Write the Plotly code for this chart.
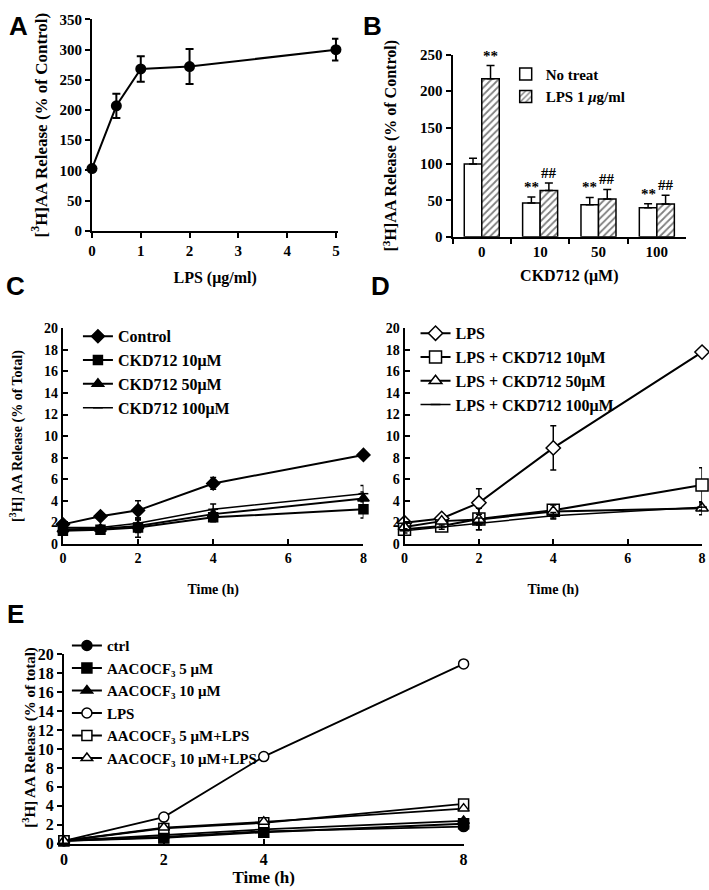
import plotly.graph_objects as go

W, H = 712, 900
SERIF = "Liberation Serif"

# ---- panel A : LPS dose response
lps_dose = [0, 0.5, 1, 2, 5]
lps_release = [103, 207, 268, 272, 300]
lps_err = [3, 20, 21, 29, 18]

# ---- panel B : CKD712 bars
ckd_cats = ["0", "10", "50", "100"]
no_treat = [100, 46.5, 44, 40]
no_treat_err = [8, 8, 10, 5.5]
lps_treat = [217, 63.5, 52, 45]
lps_treat_err = [18, 10.5, 13, 12]
no_treat_marks = ["", "**", "**", "**"]
lps_marks = ["**", "##", "##", "##"]

# ---- panel C / D : time course
hours = [0, 1, 2, 4, 8]
c_control = [1.8, 2.55, 3.1, 5.6, 8.25]
c_control_err = [0.2, 0.15, 0.9, 0.55, 0.2]
c_ckd10 = [1.2, 1.3, 1.5, 2.45, 3.2]
c_ckd10_err = [0.3, 0.2, 0.9, 0.4, 0.8]
c_ckd50 = [1.35, 1.4, 1.65, 2.75, 4.2]
c_ckd50_err = [0.3, 0.2, 0.6, 0.4, 0.6]
c_ckd100 = [1.5, 1.5, 1.9, 3.2, 4.65]
c_ckd100_err = [0.2, 0.2, 0.5, 0.5, 0.75]

d_lps = [1.95, 2.35, 3.8, 8.9, 17.8]
d_lps_err = [0.2, 0.2, 1.3, 2.05, 0.2]
d_lps10 = [1.35, 1.65, 2.3, 3.1, 5.45]
d_lps10_err = [0.2, 0.2, 1.0, 0.4, 1.6]
d_lps50 = [1.55, 2.1, 2.25, 3.0, 3.3]
d_lps50_err = [0.2, 0.2, 0.5, 0.6, 0.6]
d_lps100 = [1.2, 1.55, 1.85, 2.6, 3.4]
d_lps100_err = [0.2, 0.2, 0.55, 0.3, 0.3]

# ---- panel E : AACOCF3
e_hours = [0, 2, 4, 8]
e_ctrl = [0.3, 0.7, 1.3, 1.8]
e_aa5 = [0.3, 0.6, 1.2, 2.1]
e_aa10 = [0.3, 0.9, 1.5, 2.4]
e_lps = [0.3, 2.8, 9.2, 19.0]
e_aa5_lps = [0.3, 1.6, 2.2, 4.2]
e_aa10_lps = [0.3, 1.7, 2.3, 3.7]


# positions below are in snapshot pixels; the snapshot comes out slightly shrunk and shifted
def px_x(x):
    return ((x - 3.2) / 0.987) / W


def px_y(y):
    return 1 - ((y - 10.6) / 0.975) / H


def dom_x(a, b):
    return [px_x(a), px_x(b)]


def dom_y(top, bottom):
    return [px_y(bottom), px_y(top)]


def bold(size):
    return dict(family=SERIF, size=size, color="black", weight="bold")


def axis(tsize, vals, **kw):
    d = dict(showline=True, linecolor="black", linewidth=2, showgrid=False,
             zeroline=False, tickfont=bold(tsize), tickwidth=2, tickcolor="black",
             ticklen=5, ticklabeloverflow="allow", tickmode="array", tickvals=vals,
             ticktext=["<b>%s</b>" % v for v in vals])
    d.update(kw)
    return d


fig = go.Figure()

# A
fig.add_trace(go.Scatter(
    x=lps_dose, y=lps_release, mode="lines+markers", xaxis="x", yaxis="y",
    line=dict(color="black", width=2), marker=dict(color="black", size=11),
    error_y=dict(type="data", array=lps_err, color="black", thickness=2, width=4),
    showlegend=False, cliponaxis=False))

# B
fig.add_trace(go.Bar(
    x=ckd_cats, y=no_treat, name="No treat", xaxis="x2", yaxis="y2",
    marker=dict(color="white", line=dict(color="black", width=1.5)),
    error_y=dict(type="data", array=no_treat_err, arrayminus=[0] * 4, symmetric=False,
                 color="black", thickness=1.5, width=4),
    legend="legend"))
fig.add_trace(go.Bar(
    x=ckd_cats, y=lps_treat, name="LPS 1 <i>μ</i>g/ml", xaxis="x2", yaxis="y2",
    marker=dict(color="white", line=dict(color="black", width=1.5),
                pattern=dict(shape="/", fgcolor="black", bgcolor="white", size=5, solidity=0.35)),
    error_y=dict(type="data", array=lps_treat_err, arrayminus=[0] * 4, symmetric=False,
                 color="black", thickness=1.5, width=4),
    legend="legend"))

for i in range(len(ckd_cats)):
    for off, vals, errs, marks in [(-0.15, no_treat, no_treat_err, no_treat_marks),
                                   (0.15, lps_treat, lps_treat_err, lps_marks)]:
        if marks[i]:
            fig.add_annotation(x=i + off, y=vals[i] + errs[i], xref="x2", yref="y2",
                               text="<b>%s</b>" % marks[i], showarrow=False, yanchor="bottom",
                               font=bold(15))

# C
c_series = [
    ("Control", c_control, c_control_err, "diamond", 10, 2),
    ("CKD712 10μM", c_ckd10, c_ckd10_err, "square", 9, 2),
    ("CKD712 50μM", c_ckd50, c_ckd50_err, "triangle-up", 10, 2),
    ("CKD712 100μM", c_ckd100, c_ckd100_err, "line-ew", 7, 1.5),
]
for name, vals, errs, sym, size, lw in c_series:
    fig.add_trace(go.Scatter(
        x=hours, y=vals, name=name, mode="lines+markers", xaxis="x3", yaxis="y3",
        line=dict(color="black", width=lw),
        marker=dict(symbol=sym, size=size, color="black", line=dict(color="black", width=1.5)),
        error_y=dict(type="data", array=errs, color="black", thickness=1.5, width=3),
        legend="legend2", cliponaxis=False))

# D
d_series = [
    ("LPS", d_lps, d_lps_err, "diamond", 11, 2),
    ("LPS + CKD712 10μM", d_lps10, d_lps10_err, "square", 12, 2),
    ("LPS + CKD712 50μM", d_lps50, d_lps50_err, "triangle-up", 11, 2),
    ("LPS + CKD712 100μM", d_lps100, d_lps100_err, "line-ew", 7, 1.5),
]
for name, vals, errs, sym, size, lw in d_series:
    fig.add_trace(go.Scatter(
        x=hours, y=vals, name=name, mode="lines+markers", xaxis="x4", yaxis="y4",
        line=dict(color="black", width=lw),
        marker=dict(symbol=sym, size=size, color="black" if sym == "line-ew" else "white",
                    line=dict(color="black", width=1.5)),
        error_y=dict(type="data", array=errs, color="black", thickness=1.5, width=3),
        legend="legend3", cliponaxis=False))

# E
e_series = [
    ("ctrl", e_ctrl, "circle", "black"),
    ("AACOCF₃ 5 μM", e_aa5, "square", "black"),
    ("AACOCF₃ 10 μM", e_aa10, "triangle-up", "black"),
    ("LPS", e_lps, "circle", "white"),
    ("AACOCF₃ 5 μM+LPS", e_aa5_lps, "square", "white"),
    ("AACOCF₃ 10 μM+LPS", e_aa10_lps, "triangle-up", "white"),
]
for name, vals, sym, fill in e_series:
    fig.add_trace(go.Scatter(
        x=e_hours, y=vals, name=name, mode="lines+markers", xaxis="x5", yaxis="y5",
        line=dict(color="black", width=1.8),
        marker=dict(symbol=sym, size=10, color=fill, line=dict(color="black", width=1.5)),
        legend="legend4", cliponaxis=False))

ytitle = "[<sup>3</sup>H]AA Release (% of Control)"
nolegbg = "rgba(0,0,0,0)"

fig.update_layout(
    width=W, height=H, plot_bgcolor="white", paper_bgcolor="white",
    margin=dict(l=0, r=0, t=0, b=0),
    barmode="group", bargap=0.4, bargroupgap=0,
    xaxis=axis(15, [0, 1, 2, 3, 4, 5], domain=dom_x(91, 337), range=[0, 5.05],
               ticks="outside", title=dict(text="LPS (μg/ml)", font=bold(16), standoff=14)),
    yaxis=axis(15, list(range(0, 351, 50)), domain=dom_y(22, 232), range=[0, 350],
               ticks="outside", title=dict(text=ytitle, font=bold(17), standoff=8)),
    xaxis2=axis(15, ckd_cats, domain=dom_x(451, 684), anchor="y2", type="category",
                range=[-0.5, 3.5], tickson="boundaries", ticks="outside",
                title=dict(text="CKD712 (μM)", font=bold(16), standoff=11)),
    yaxis2=axis(15, list(range(0, 251, 50)), domain=dom_y(57, 238), anchor="x2",
                range=[0, 250], ticks="outside",
                title=dict(text=ytitle, font=bold(16), standoff=19)),
    xaxis3=axis(14, [0, 2, 4, 6, 8], domain=dom_x(62, 362), anchor="y3", range=[0, 8],
                ticks="inside", title=dict(text="Time (h)", font=bold(14), standoff=20)),
    yaxis3=axis(14, list(range(0, 21, 2)), domain=dom_y(329, 543), anchor="x3", range=[0, 20],
                ticks="inside",
                title=dict(text="[<sup>3</sup>H] AA Release (% of Total)", font=bold(14), standoff=18)),
    xaxis4=axis(14, [0, 2, 4, 6, 8], domain=dom_x(403, 700), anchor="y4", range=[0, 8],
                ticks="inside", title=dict(text="Time (h)", font=bold(14), standoff=20)),
    yaxis4=axis(14, list(range(0, 21, 2)), domain=dom_y(329, 543), anchor="x4", range=[0, 20],
                ticks="inside"),
    xaxis5=axis(16, [0, 2, 4, 8], domain=dom_x(63, 462), anchor="y5", range=[0, 8],
                ticks="inside", title=dict(text="Time (h)", font=bold(17), standoff=2)),
    yaxis5=axis(16, list(range(0, 21, 2)), domain=dom_y(653, 841), anchor="x5", range=[0, 20],
                ticks="outside"),
    legend=dict(x=px_x(504), y=px_y(60), xanchor="left", yanchor="top", font=bold(15),
                bgcolor=nolegbg, itemwidth=30, traceorder="normal"),
    legend2=dict(x=px_x(77), y=px_y(320), xanchor="left", yanchor="top", font=bold(16),
                 bgcolor=nolegbg, itemwidth=30),
    legend3=dict(x=px_x(414), y=px_y(317), xanchor="left", yanchor="top", font=bold(16),
                 bgcolor=nolegbg, itemwidth=30),
    legend4=dict(x=px_x(66), y=px_y(628), xanchor="left", yanchor="top", font=bold(15),
                 bgcolor=nolegbg, itemwidth=30),
)

# E y title sits close to the tick label column, so it is placed by hand
fig.add_annotation(x=px_x(29), y=px_y(735), xref="paper", yref="paper", textangle=-90,
                   xanchor="center", yanchor="middle",
                   text="[<sup>3</sup>H] AA Release (% of total)", showarrow=False,
                   font=bold(15))

panel_font = dict(family="Liberation Sans", size=26, color="black", weight="bold")
for letter, lx, ly in [("A", 18, 28), ("B", 371, 28), ("C", 15, 287), ("D", 379, 287),
                       ("E", 15, 613)]:
    fig.add_annotation(x=px_x(lx), y=px_y(ly), xref="paper", yref="paper", text=letter,
                       showarrow=False, xanchor="center", yanchor="middle", font=panel_font)

# drop the page's default body margin so the figure starts at the window corner
fig.write_html("out.html", config={"displayModeBar": False},
               post_script="document.body.style.margin='0px';")
